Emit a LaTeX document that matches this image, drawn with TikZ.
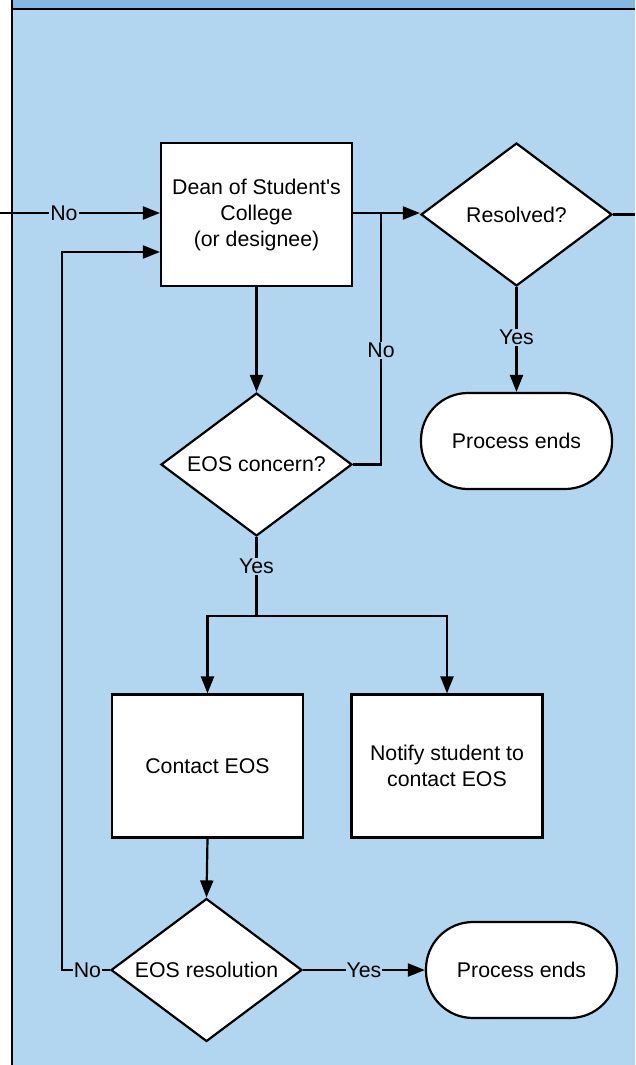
\documentclass[tikz,border=0pt]{standalone}
\usepackage{fontspec}
\setmainfont{Liberation Sans}
\usetikzlibrary{shapes.geometric,arrows.meta}
\definecolor{lane}{RGB}{178,214,239}
\definecolor{head}{RGB}{131,185,227}
\begin{document}
\begin{tikzpicture}[x=1pt,y=-1pt,
  every node/.style={font=\fontsize{21.3}{26}\selectfont},
  procbox/.style={draw,line width=2.2pt,fill=white,minimum width=191pt,minimum height=143pt,align=center,inner sep=0pt},
  decision/.style={draw,line width=2.2pt,fill=white,diamond,aspect=1.336,minimum width=191pt,minimum height=143pt,inner sep=0pt,align=center},
  terminal/.style={draw,line width=2.2pt,fill=white,rectangle,rounded corners=47pt,minimum width=191pt,minimum height=96pt,align=center},
  conn/.style={line width=2.2pt},
  arr/.style={conn,-{Triangle[length=17pt,width=13pt]}},
  lbl/.style={fill=lane,inner sep=1pt}]
\useasboundingbox (0,0) rectangle (635,1065);
\fill[white] (0,0) rectangle (635,1065);
\fill[lane] (12,9) rectangle (635,1065);
\fill[head] (12,0) rectangle (635,9);
\draw[line width=2.5pt] (12,9) -- (635,9);
\draw[line width=2.5pt] (12,0) -- (12,1065);

\node[procbox] (dean) at (256.5,214.5) {Dean of Student\textquotesingle s\\College\\(or designee)};
\node[decision] (res) at (516.5,214.5) {Resolved?};
\node[terminal] (pe1) at (516.5,441) {Process ends};
\node[decision] (eos) at (256.5,464.5) {EOS concern?};
\node[procbox] (contact) at (207.5,766) {Contact EOS};
\node[procbox] (notify) at (447,766) {Notify student to\\contact EOS};
\node[decision] (eosres) at (206.5,970) {EOS resolution};
\node[terminal] (pe2) at (521.5,970) {Process ends};

\coordinate (inL) at (0,213);
\coordinate (j1) at (381,213);
\coordinate (split) at (256.5,616);
\coordinate (outR) at (635,214.5);
\coordinate (c1) at (62,970);
\coordinate (c2) at (62,252);

\draw[arr] (inL) -- node[lbl,pos=0.4]{No} (inL -| dean.west);
\draw[arr] (dean.east |- inL) -- (res.west |- inL);
\draw[conn] (eos.east) -| node[lbl,pos=0.727]{No} (j1);
\draw[arr] (dean.south) -- (eos.north);
\draw[conn] (eos.south) -- node[lbl,pos=0.375]{Yes} (split);
\draw[arr] (split) -| (contact.north);
\draw[arr] (split) -| (notify.north);
\draw[arr] (res.south) -- node[lbl,pos=0.48]{Yes} (pe1.north);
\draw[conn] (res.east) -- (outR);
\draw[arr] (contact.south) -- (eosres.north);
\draw[arr] (eosres.west) -- node[lbl,pos=0.47]{No} (c1) -- (c2) -- (c2 -| dean.west);
\draw[arr] (eosres.east) -- node[lbl,pos=0.5]{Yes} (pe2.west);
\end{tikzpicture}
\end{document}
